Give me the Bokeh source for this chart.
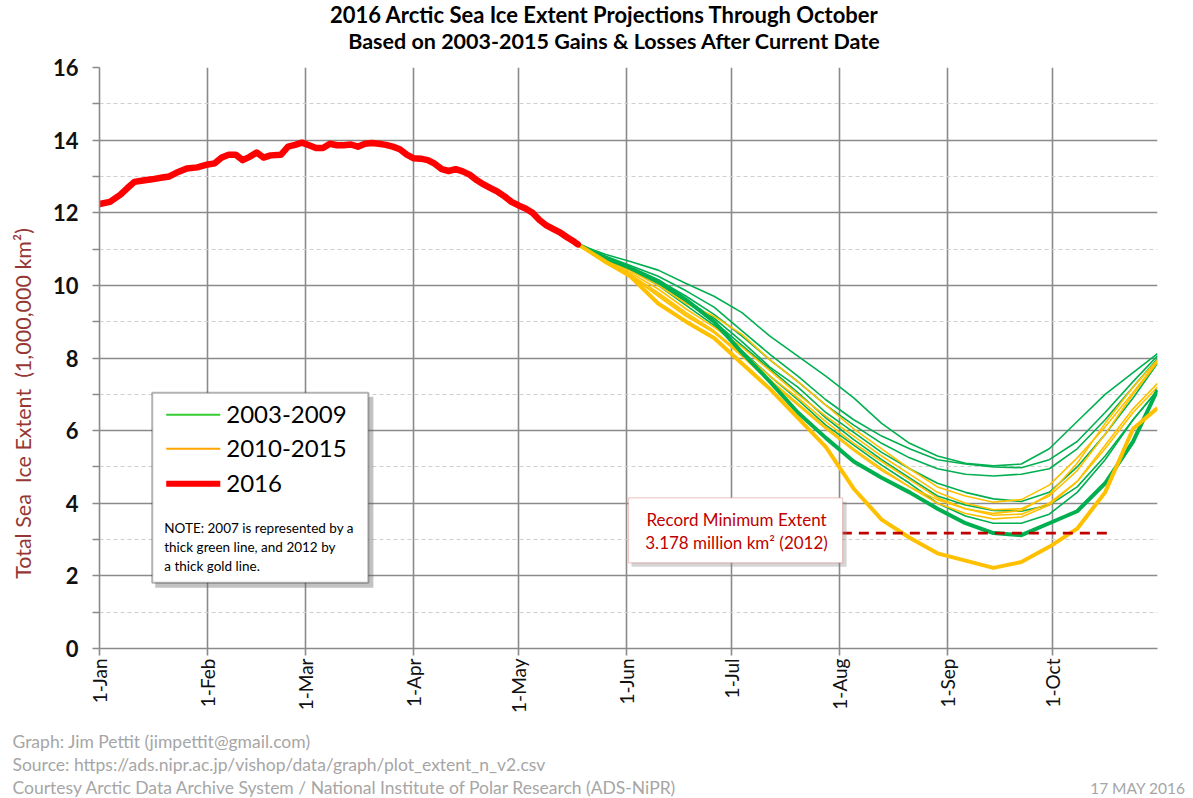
import math
from bokeh.plotting import figure
from bokeh.layouts import column, row
from bokeh.models import Range1d, FixedTicker, Label, BoxAnnotation
from bokeh.core.properties import value
from bokeh.embed import file_html
from bokeh.resources import INLINE

# ---------------- data ----------------
month_ticks = [0, 31, 59, 90, 120, 151, 181, 212, 243, 273]
month_labels = ["1-Jan", "1-Feb", "1-Mar", "1-Apr", "1-May", "1-Jun",
                "1-Jul", "1-Aug", "1-Sep", "1-Oct"]
y_major = [0, 2, 4, 6, 8, 10, 12, 14, 16]
y_minor = [1, 3, 5, 7, 9, 11, 13, 15]

days_2016 = [0, 3, 6, 8, 10, 12, 15, 18, 20, 22, 25, 28, 31, 33, 35, 37, 39, 41,
             43, 45, 47, 49, 52, 54, 56, 58, 60, 62, 64, 66, 68, 70, 72, 74, 76,
             78, 80, 82, 84, 86, 88, 90, 92, 94, 96, 98, 100, 102, 104, 106, 108,
             110, 112, 114, 116, 118, 120, 122, 124, 126, 128, 130, 132, 134, 136, 137]
extent_2016 = [12.24, 12.30, 12.50, 12.68, 12.85, 12.88, 12.92, 12.97, 13.00, 13.10,
               13.22, 13.25, 13.33, 13.36, 13.52, 13.60, 13.60, 13.45, 13.54, 13.66,
               13.52, 13.58, 13.60, 13.82, 13.87, 13.93, 13.86, 13.78, 13.78, 13.90,
               13.86, 13.86, 13.88, 13.82, 13.90, 13.92, 13.90, 13.87, 13.82, 13.75,
               13.60, 13.50, 13.49, 13.45, 13.35, 13.20, 13.15, 13.20, 13.14, 13.05,
               12.90, 12.78, 12.68, 12.58, 12.45, 12.30, 12.20, 12.12, 12.00, 11.80,
               11.65, 11.55, 11.45, 11.32, 11.20, 11.13]

proj_days = [137, 145, 152, 160, 168, 176, 184, 192, 200, 208, 216, 224, 232, 240,
             248, 256, 264, 272, 280, 288, 296, 303]

green_a = [11.13, 10.85, 10.66, 10.42, 10.05, 9.70, 9.25, 8.60, 8.05, 7.50, 6.90,
           6.20, 5.65, 5.30, 5.10, 5.03, 5.08, 5.50, 6.25, 7.00, 7.60, 8.12]
green_b = [11.13, 10.80, 10.55, 10.25, 9.85, 9.40, 8.75, 8.10, 7.50, 6.85, 6.30,
           5.85, 5.50, 5.20, 5.08, 5.00, 4.98, 5.20, 5.70, 6.50, 7.35, 8.06]
green_c = [11.13, 10.78, 10.50, 10.15, 9.70, 9.20, 8.60, 7.95, 7.35, 6.70, 6.15,
           5.65, 5.25, 4.95, 4.80, 4.75, 4.80, 4.95, 5.50, 6.30, 7.20, 7.98]
green_d = [11.13, 10.70, 10.45, 10.10, 9.60, 9.10, 8.45, 7.75, 7.20, 6.50, 5.95,
           5.40, 4.95, 4.55, 4.30, 4.12, 4.05, 4.30, 5.00, 5.90, 6.90, 7.85]
green_e = [11.13, 10.70, 10.45, 10.05, 9.55, 9.00, 8.35, 7.70, 7.05, 6.35, 5.75,
           5.20, 4.70, 4.20, 3.95, 3.80, 3.78, 3.95, 4.45, 5.30, 6.30, 7.10]
green_f = [11.13, 10.72, 10.42, 10.00, 9.45, 8.90, 8.20, 7.50, 6.85, 6.15, 5.60,
           5.05, 4.55, 4.00, 3.65, 3.45, 3.45, 3.70, 4.30, 5.20, 6.30, 7.12]
green_2007 = [11.13, 10.75, 10.48, 10.12, 9.60, 9.00, 8.15, 7.35, 6.50, 5.80, 5.15,
              4.70, 4.30, 3.85, 3.45, 3.18, 3.12, 3.45, 3.78, 4.55, 5.70, 7.12]

gold_a = [11.13, 10.72, 10.40, 10.00, 9.50, 9.15, 8.65, 7.95, 7.35, 6.70, 6.05,
          5.50, 4.95, 4.45, 4.20, 4.03, 4.10, 4.50, 5.25, 6.10, 7.05, 7.92]
gold_b = [11.13, 10.68, 10.35, 9.90, 9.35, 8.85, 8.30, 7.65, 7.00, 6.40, 5.85,
          5.30, 4.80, 4.30, 4.00, 3.82, 3.85, 4.20, 4.90, 5.90, 7.00, 7.88]
gold_c = [11.13, 10.60, 10.25, 9.75, 9.20, 8.70, 8.15, 7.50, 6.90, 6.25, 5.65,
          5.15, 4.65, 4.15, 3.85, 3.67, 3.70, 4.00, 4.60, 5.60, 6.60, 7.30]
gold_d = [11.13, 10.62, 10.30, 9.80, 9.25, 8.75, 8.10, 7.40, 6.75, 6.10, 5.50,
          4.95, 4.45, 4.00, 3.72, 3.57, 3.62, 3.95, 4.60, 5.50, 6.50, 7.20]
gold_e = [11.13, 10.65, 10.28, 9.70, 9.15, 8.70, 8.05, 7.35, 6.70, 6.05, 5.45,
          4.90, 4.45, 4.10, 3.85, 3.72, 3.80, 4.25, 5.10, 6.20, 7.20, 7.95]
gold_2012 = [11.13, 10.65, 10.25, 9.50, 9.00, 8.55, 7.85, 7.15, 6.35, 5.55, 4.40,
             3.55, 3.05, 2.62, 2.42, 2.22, 2.38, 2.80, 3.30, 4.30, 6.05, 6.62]

record_min = 3.178
record_span = [212.6, 290.5]

title_lines = ["2016 Arctic Sea Ice Extent Projections Through October",
               "Based on 2003-2015 Gains & Losses After Current Date"]
y_title = "Total Sea \u00a0Ice Extent \u00a0(1,000,000 km²)"
footer_lines = ["Graph: Jim Pettit (jimpettit@gmail.com)",
                "Source: https://ads.nipr.ac.jp/vishop/data/graph/plot_extent_n_v2.csv",
                "Courtesy Arctic Data Archive System / National Institute of Polar Research (ADS-NiPR)"]
date_text = "17 MAY 2016"

# ---------------- styling ----------------
FONT = "Lato"
GRID = "#8a8a8a"
GREEN = "#00B050"
GOLD = "#FFC000"
RED = "#FF0000"

# page regions in pixels
PAGE_L, PAGE_R, PAGE_T, PAGE_B = 0, 1192, 0, 797
MID_T, MID_B = 54, 725
YLAB_R = 40
FL, FR, FT, FB = 99.3, 1156.7, 66.6, 647.7
X0, X1, Y0, Y1 = 0, 303, 0, 16


def dx(px):
    return X0 + (px - FL) * (X1 - X0) / (FR - FL)


def dy(py):
    return Y0 + (FB - py) * (Y1 - Y0) / (FB - FT)


def strip(w, h, xr, yr):
    f = figure(width=w, height=h, x_range=Range1d(*xr), y_range=Range1d(*yr),
               output_backend="svg", toolbar_location=None, title=None,
               x_axis_type=None, y_axis_type=None, min_border=0)
    f.outline_line_color = None
    f.background_fill_color = "white"
    f.border_fill_color = "white"
    return f


# ---------------- title strip ----------------
tf = strip(PAGE_R - PAGE_L, MID_T - PAGE_T, (PAGE_L, PAGE_R), (-MID_T, -PAGE_T))
tf.text(x=[604], y=[-14], text=title_lines[:1], text_font=value(FONT),
        text_font_size="22px", text_font_style="bold", text_color="black",
        text_align="center", text_baseline="middle")
tf.text(x=[614], y=[-40.5], text=title_lines[1:], text_font=value(FONT),
        text_font_size="21.5px", text_font_style="bold", text_color="black",
        text_align="center", text_baseline="middle")

# ---------------- y title strip ----------------
yf = strip(YLAB_R - PAGE_L, MID_B - MID_T, (PAGE_L, YLAB_R), (-MID_B, -MID_T))
yf.text(x=[22], y=[-442], text=[y_title], text_font=value(FONT),
        text_font_size="21.5px", text_color="#953735", angle=math.pi / 2,
        text_align="center", text_baseline="middle")

# ---------------- footer strip ----------------
ff = strip(PAGE_R - PAGE_L, PAGE_B - MID_B, (PAGE_L, PAGE_R), (-PAGE_B, -MID_B))
ff.text(x=[12, 12, 12], y=[-741, -764, -787], text=footer_lines, text_font=value(FONT),
        text_font_size="17.5px", text_color="#A6A6A6", text_align="left",
        text_baseline="middle")
ff.text(x=[1185], y=[-787], text=[date_text], text_font=value(FONT),
        text_font_size="15.5px", text_color="#A6A6A6", text_align="right",
        text_baseline="middle")

# ---------------- main chart ----------------
p = figure(width=PAGE_R - YLAB_R, height=MID_B - MID_T,
           x_range=Range1d(X0, X1), y_range=Range1d(Y0, Y1),
           output_backend="svg", toolbar_location=None, title=None,
           min_border_left=round(FL - YLAB_R), min_border_right=round(PAGE_R - FR),
           min_border_top=round(FT - MID_T), min_border_bottom=round(MID_B - FB))
p.outline_line_color = None
p.background_fill_color = "white"
p.border_fill_color = "white"

xt = FixedTicker(ticks=month_ticks)
p.xaxis.ticker = xt
p.xgrid.ticker = xt
p.xaxis.major_label_overrides = {t: l for t, l in zip(month_ticks, month_labels)}
p.xaxis.major_label_orientation = math.pi / 2
p.xaxis.major_label_text_font = FONT
p.xaxis.major_label_text_font_size = "19px"
p.xaxis.major_label_text_color = "#111111"
p.xaxis.major_label_standoff = 3
p.xaxis.axis_line_color = GRID
p.xaxis.axis_line_width = 1.6
p.xaxis.major_tick_line_color = GRID
p.xaxis.major_tick_line_width = 1.6
p.xaxis.major_tick_out = 7
p.xaxis.major_tick_in = 0
p.xaxis.minor_tick_line_color = None

yt = FixedTicker(ticks=y_major, minor_ticks=y_minor)
p.yaxis.ticker = yt
p.ygrid.ticker = yt
p.yaxis.major_label_text_font = FONT
p.yaxis.major_label_text_font_style = "bold"
p.yaxis.major_label_text_font_size = "22px"
p.yaxis.major_label_text_color = "#111111"
p.yaxis.major_label_standoff = 14
p.yaxis.axis_line_color = GRID
p.yaxis.axis_line_width = 1.6
p.yaxis.major_tick_line_color = GRID
p.yaxis.major_tick_line_width = 1.6
p.yaxis.minor_tick_line_color = GRID
p.yaxis.minor_tick_line_width = 1.6
p.yaxis.major_tick_out = 7
p.yaxis.major_tick_in = 0
p.yaxis.minor_tick_out = 7
p.yaxis.minor_tick_in = 0

p.xgrid.grid_line_color = GRID
p.xgrid.grid_line_width = 1.6
p.ygrid.grid_line_color = GRID
p.ygrid.grid_line_width = 1.6
p.ygrid.minor_grid_line_color = "#cfcfcf"
p.ygrid.minor_grid_line_dash = "4 3"
p.ygrid.minor_grid_line_width = 1

# series
for s in [green_a, green_b, green_c, green_d, green_e, green_f]:
    p.line(proj_days, s, line_color=GREEN, line_width=1.6)
for s in [gold_a, gold_b, gold_c, gold_d, gold_e]:
    p.line(proj_days, s, line_color=GOLD, line_width=1.6)
p.line(proj_days, green_2007, line_color=GREEN, line_width=4, line_join="round")
p.line(proj_days, gold_2012, line_color=GOLD, line_width=4, line_join="round")
p.line(days_2016, extent_2016, line_color=RED, line_width=6.5, line_join="round",
       line_cap="round")
p.line(record_span, [record_min, record_min], line_color="#C00000", line_width=2.6,
       line_dash="10 7")

# record box
p.add_layout(BoxAnnotation(left=dx(631), right=dx(846), top=dy(501), bottom=dy(566),
                           fill_color="#888888", fill_alpha=0.35, line_color=None))
p.add_layout(BoxAnnotation(left=dx(628), right=dx(842), top=dy(497), bottom=dy(562),
                           fill_color="white", fill_alpha=1, line_color="#D05050",
                           line_width=1.2))
for txt, py in [("Record Minimum Extent", 518.5), ("3.178 million km² (2012)", 542)]:
    p.add_layout(Label(x=dx(736), y=dy(py), text=txt, text_font=FONT,
                       text_font_size="17px", text_color="#C00000",
                       text_align="center", text_baseline="middle"))

# legend box
p.add_layout(BoxAnnotation(left=dx(155), right=dx(373), top=dy(396), bottom=dy(587),
                           fill_color="#666666", fill_alpha=0.4, line_color=None))
p.add_layout(BoxAnnotation(left=dx(152), right=dx(368), top=dy(392), bottom=dy(582),
                           fill_color="white", fill_alpha=1, line_color="black",
                           line_width=2))
for name, col, w, py in [("2003-2009", "#33CC33", 2, 414), ("2010-2015", "#FFA500", 2, 448),
                         ("2016", RED, 6, 483)]:
    p.line([dx(166), dx(220)], [dy(py), dy(py)], line_color=col, line_width=w,
           level="overlay")
    p.add_layout(Label(x=dx(226), y=dy(py), text=name, text_font=FONT,
                       text_font_size="24px", text_color="black",
                       text_align="left", text_baseline="middle", level="overlay"))
for txt, py in [("NOTE: 2007 is represented by a", 527), ("thick green line, and 2012 by", 546),
                ("a thick gold line.", 565)]:
    p.add_layout(Label(x=dx(164), y=dy(py), text=txt, text_font=FONT,
                       text_font_size="13.5px", text_color="black",
                       text_align="left", text_baseline="middle", level="overlay"))

layout = column(tf, row(yf, p), ff)
open("out.html", "w").write(file_html(layout, INLINE))
